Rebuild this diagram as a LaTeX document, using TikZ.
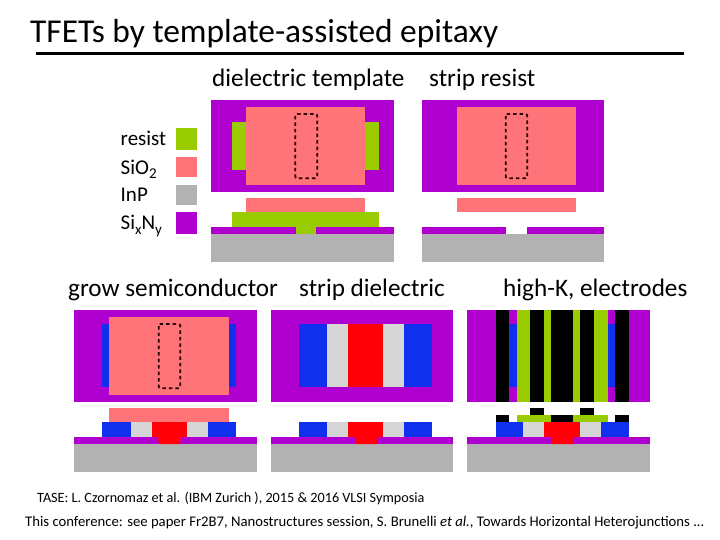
\documentclass[tikz,border=0pt]{standalone}
\usepackage{fontspec}
\setmainfont{Carlito}
\usepackage{tikz}

\definecolor{sinx}{HTML}{B000D0}
\definecolor{oxide}{HTML}{FF7478}
\definecolor{resist}{HTML}{99CC00}
\definecolor{inp}{HTML}{B2B2B2}
\definecolor{contact}{HTML}{1030EE}
\definecolor{spacer}{HTML}{D6D6D6}
\definecolor{channel}{HTML}{FF0008}

\newcommand{\lowsub}[1]{\raisebox{-4.5pt}{\fontsize{15}{16}\selectfont #1}}

\tikzset{
    titletext/.style={anchor=base west,inner sep=0pt,font=\fontsize{33.4}{35}\selectfont},
    steptext/.style={anchor=base west,inner sep=0pt,font=\fontsize{25.2}{27}\selectfont},
    legendtext/.style={anchor=base west,inner sep=0pt,font=\fontsize{21}{23}\selectfont},
    foottext/.style={anchor=base west,inner sep=0pt,font=\fontsize{14.2}{15}\selectfont},
    confertext/.style={anchor=base west,inner sep=0pt,font=\fontsize{14.7}{16}\selectfont},
    maskbox/.style={draw=black!85!red,line width=1.8pt,dash pattern=on 3.5pt off 3pt,rounded corners=2pt}
}

\begin{document}
\begin{tikzpicture}[x=1pt,y=-1pt]
    \useasboundingbox (0,0) rectangle (720,540);

    % title
    \node[titletext] (title) at (30,43) {TFETs by template-assisted epitaxy};
    \draw[line width=3pt] (36,53.5) -- (684,53.5);

    % step labels
    \node[steptext] (template) at (212,86.5) {dielectric template};
    \node[steptext] (strip) at (429,86.5) {strip resist};
    \node[steptext] (grow) at (68,296.5) {grow semiconductor};
    \node[steptext] (stripdiel) at (299,296.5) {strip dielectric};
    \node[steptext] (highk) at (503,296.5) {high-K, electrodes};

    % legend
    \foreach \name/\col/\top/\bot/\base/\txt in {
        lres/resist/128/149.7/145.7/resist,
        lsio/oxide/156.7/177.3/174.5/{SiO\lowsub{2}},
        linp/inp/184.7/205.3/202/InP,
        lsin/sinx/212/234/229.5/{Si\lowsub{x}N\lowsub{y}}} {
        \fill[\col] (176.3,\top) rectangle (197.3,\bot);
        \node[legendtext] (\name) at (120.5,\base) {\txt};
    }

    % plan view and section substrate of every panel
    \foreach \x/\y in {211.3/100,422/100,74.3/310,271/310,467.3/310} {
        \fill[sinx] (\x,\y) rectangle (\x+182.4,\y+91.7);
        \fill[sinx] (\x,\y+126.7) rectangle (\x+182.4,\y+134);
        \fill[inp] (\x,\y+134) rectangle (\x+182.4,\y+162);
    }

    % dielectric template
    \fill[resist] (232.3,122) rectangle (379.3,170);
    \fill[oxide] (246.3,107) rectangle (365,184.7);
    \draw[maskbox] (295.3,114) rectangle (317.3,178.3);
    \fill[oxide] (246.3,198.3) rectangle (365,212);
    \fill[resist] (232.3,212) rectangle (379.3,226.7);
    \fill[resist] (296,226.7) rectangle (316,234);

    % strip resist
    \fill[oxide] (457,107) rectangle (576.3,184.7);
    \draw[maskbox] (505.7,114) rectangle (527.3,178.3);
    \fill[oxide] (457,198.3) rectangle (576.3,212);
    \fill[white] (506,226.7) rectangle (527,234);

    % grow semiconductor
    \fill[contact] (102.3,324.3) rectangle (236,387);
    \fill[oxide] (109.3,317) rectangle (229,394.7);
    \draw[maskbox] (158.7,324) rectangle (180.3,388.3);
    \fill[oxide] (109.3,408.3) rectangle (229,422);
    \foreach \a/\b/\col in {102.3/131/contact,131/151.7/spacer,151.7/187/channel,187/208/spacer,208/236/contact} {
        \fill[\col] (\a,422) rectangle (\b,436.7);
    }
    \fill[channel] (157.5,436.7) -- (181,436.7) -- (180,444) -- (159,444) -- cycle;

    % strip dielectric
    \foreach \a/\b/\col in {299.3/327.3/contact,327.3/348.3/spacer,348.3/383.3/channel,383.3/404.3/spacer,404.3/432.3/contact} {
        \fill[\col] (\a,324.3) rectangle (\b,387);
        \fill[\col] (\a,422) rectangle (\b,436.7);
    }
    \fill[channel] (355,436.7) -- (377.5,436.7) -- (376.7,444) -- (356,444) -- cycle;

    % high-K, electrodes
    \foreach \a/\b/\col in {495.7/509.3/black,516.7/530.3/resist,530.3/544.3/black,544.3/551.3/resist,551.3/573/black,573/580/resist,580/594/black,594/608/resist,615/629/black} {
        \fill[\col] (\a,310) rectangle (\b,401.7);
    }
    \fill[contact] (509.3,324.3) rectangle (516.7,387);
    \fill[contact] (608,324.3) rectangle (615,387);
    \foreach \a/\b/\col in {495.7/523.3/contact,523.3/544.3/spacer,544.3/580/channel,580/601/spacer,601/629/contact} {
        \fill[\col] (\a,422) rectangle (\b,436.7);
    }
    \fill[channel] (551,436.7) -- (574,436.7) -- (573.3,444) -- (552,444) -- cycle;
    \foreach \a/\b/\col in {495.7/509.3/black,516.7/551.3/resist,551.3/573/black,573/608/resist,615/629/black} {
        \fill[\col] (\a,415.3) rectangle (\b,422);
    }
    \foreach \a in {530.3,580} {
        \fill[black] (\a,408.3) rectangle (\a+14,415.3);
    }

    % footer
    \node[foottext] (tase) at (37,502) {TASE: L. Czornomaz et al. (IBM Zurich ),  2015 \& 2016 VLSI Symposia};
    \node[confertext] (conf) at (25,526) {This conference: see paper Fr2B7, Nanostructures session,  S. Brunelli \textit{et al.}, Towards Horizontal Heterojunctions ...};
\end{tikzpicture}
\end{document}
